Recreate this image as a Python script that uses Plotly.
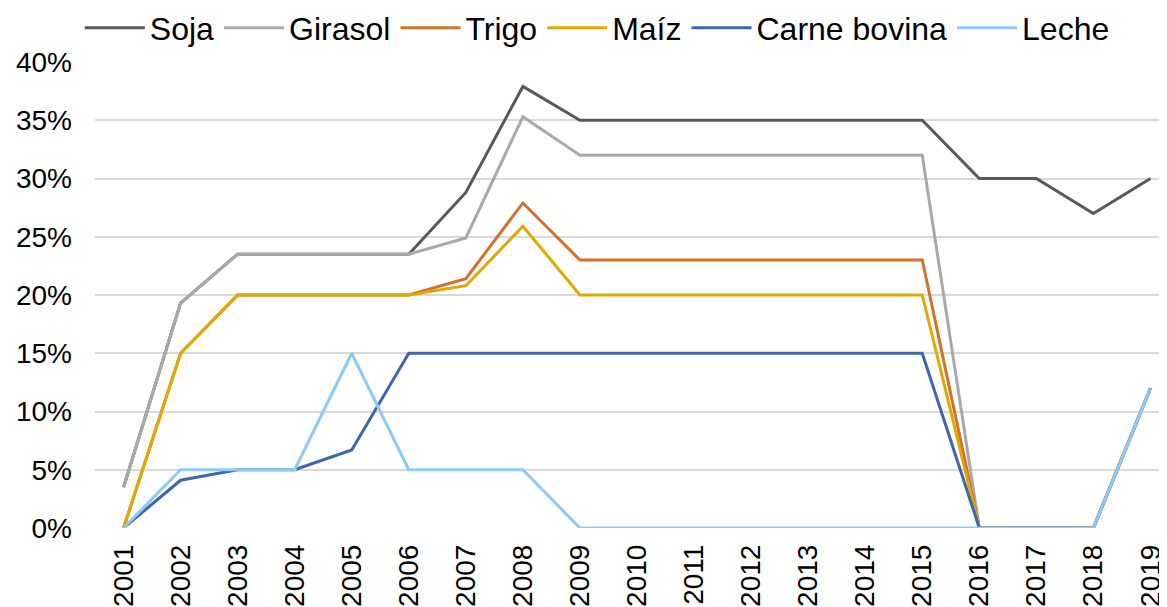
import plotly.graph_objects as go

years = [str(y) for y in range(2001, 2020)]

soja = [3.5, 19.3, 23.5, 23.5, 23.5, 23.5, 28.8, 37.9, 35, 35, 35, 35, 35, 35, 35, 30, 30, 27, 30]
girasol = [3.5, 19.3, 23.5, 23.5, 23.5, 23.5, 24.9, 35.3, 32, 32, 32, 32, 32, 32, 32, 0, 0, 0, 12]
trigo = [0, 15, 20, 20, 20, 20, 21.4, 27.9, 23, 23, 23, 23, 23, 23, 23, 0, 0, 0, 12]
maiz = [0, 15, 20, 20, 20, 20, 20.8, 25.9, 20, 20, 20, 20, 20, 20, 20, 0, 0, 0, 12]
carne = [0, 4.1, 5, 5, 6.7, 15, 15, 15, 15, 15, 15, 15, 15, 15, 15, 0, 0, 0, 12]
leche = [0, 5, 5, 5, 15, 5, 5, 5, 0, 0, 0, 0, 0, 0, 0, 0, 0, 0, 12]

series = [
    ("Soja", soja, "#595959"),
    ("Girasol", girasol, "#A9A9A9"),
    ("Trigo", trigo, "#D4702B"),
    ("Maíz", maiz, "#E3A800"),
    ("Carne bovina", carne, "#3E66B0"),
    ("Leche", leche, "#8CCBF9"),
]

fig = go.Figure()
for name, vals, color in series:
    fig.add_trace(go.Scatter(
        x=years, y=vals, name=name, mode="lines",
        line=dict(color=color, width=3),
    ))

# la página tiene 8px de margen en el body, se compensa aquí
fig.update_layout(
    width=1167, height=607,
    margin=dict(l=87, r=8, t=54, b=87, autoexpand=False),
    paper_bgcolor="white", plot_bgcolor="white",
    font=dict(family="Liberation Sans, Arial", size=28, color="black"),
    legend=dict(
        orientation="h", x=0.505, xanchor="center", xref="container",
        y=0.967, yanchor="middle", yref="container",
        font=dict(size=32), tracegroupgap=0, itemwidth=60,
    ),
    xaxis=dict(
        type="category", range=[-0.5, 18.29], tickangle=-90,
        showgrid=False, showline=False, ticks="", ticklabelstandoff=10,
    ),
    yaxis=dict(
        range=[0, 40], dtick=5, ticksuffix="%",
        showgrid=True, gridcolor="#D9D9D9", gridwidth=1.5,
        zeroline=False, showline=False, ticks="", ticklabelstandoff=22,
    ),
)

fig.write_html("out.html")
